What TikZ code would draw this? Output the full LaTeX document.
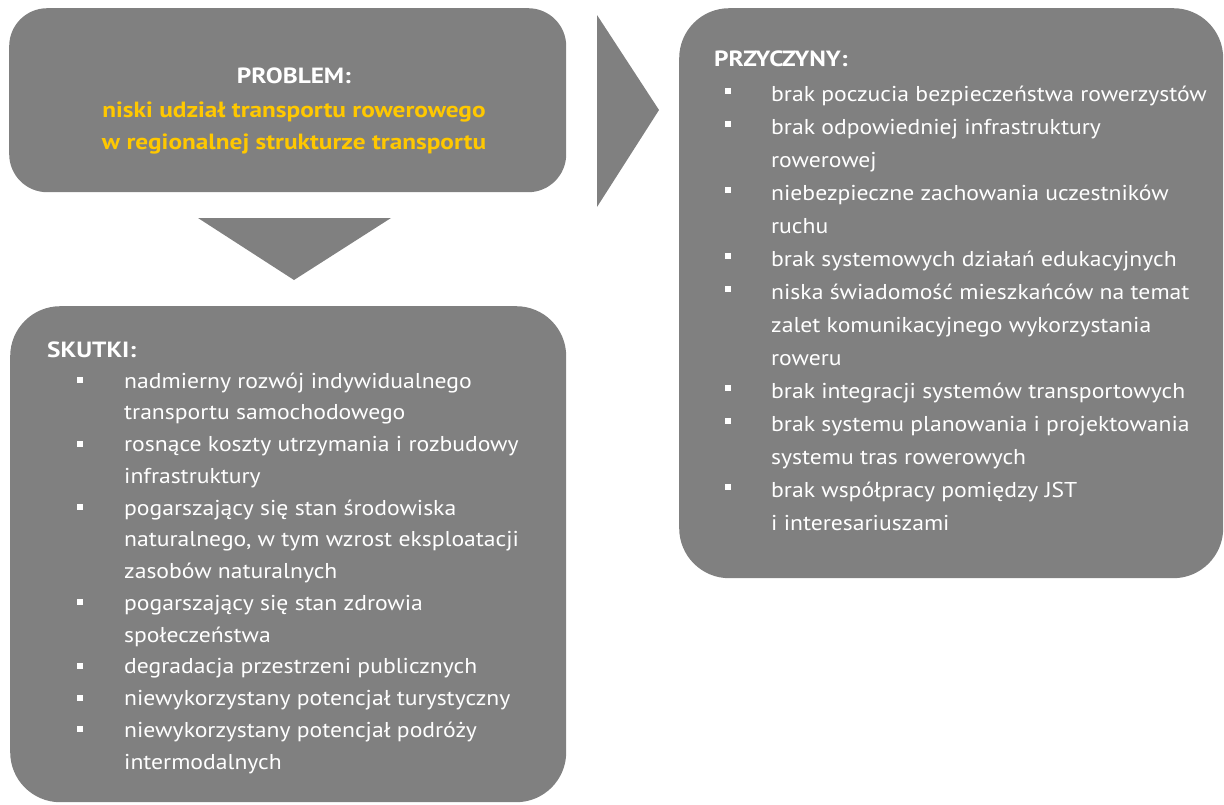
\documentclass[tikz,border=0pt]{standalone}
\usepackage{fontspec}
\setmainfont{PT Sans}[FakeStretch=1.10, BoldFeatures={FakeStretch=1.15}]
\definecolor{szary}{HTML}{808080}
\definecolor{zolty}{HTML}{FFC800}
\tikzset{
  blok/.style={fill=szary, inner sep=0pt, anchor=north west},
  tytul/.style={white, font=\fontsize{22}{26}\selectfont\bfseries, anchor=base west, inner sep=0pt},
  wiersz/.style={white, font=\fontsize{21.5}{26}\selectfont, anchor=base west, inner sep=0pt},
  kwadrat/.style={fill=white},
  strzalka/.style={fill=szary},
}

\begin{document}
\begin{tikzpicture}[x=1pt,y=-1pt]
\useasboundingbox (0,0) rectangle (1224,804);

% boxes
\node[blok, rounded corners=38pt, minimum width=557pt, minimum height=184pt] (problem) at (9,8) {};
\node[blok, rounded corners=50pt, minimum width=544pt, minimum height=570pt] (przyczyny) at (679,8) {};
\node[blok, rounded corners=50pt, minimum width=556pt, minimum height=496pt] (skutki) at (10,306) {};

% arrows
\fill[strzalka] (198,218) -- (391,218) -- (294,280) -- cycle;
\fill[strzalka] (597,15) -- (659,110) -- (597,207) -- cycle;

% problem
\node[tytul, anchor=base] (problem-tytul) at (294,83) {PROBLEM:};
\node[tytul, zolty, anchor=base] (problem-1) at (294,117) {niski udział transportu rowerowego};
\node[tytul, zolty, anchor=base] (problem-2) at (294,149) {w regionalnej strukturze transportu};

% causes
\node[tytul] (przyczyny-tytul) at (714,66) {PRZYCZYNY:};
\foreach [count=\i] \p/\t in {
  1/brak poczucia bezpieczeństwa rowerzystów,
  1/brak odpowiedniej infrastruktury,
  0/rowerowej,
  1/niebezpieczne zachowania uczestników,
  0/ruchu,
  1/brak systemowych działań edukacyjnych,
  1/niska świadomość mieszkańców na temat,
  0/zalet komunikacyjnego wykorzystania,
  0/roweru,
  1/brak integracji systemów transportowych,
  1/brak systemu planowania i projektowania,
  0/systemu tras rowerowych,
  1/brak współpracy pomiędzy JST,
  0/i interesariuszami}{
  \node[wiersz] (przyczyny-\i) at (771,{101+33*(\i-1)}) {\t};
  \ifnum\p=1 \fill[kwadrat] ([xshift=-46pt,yshift=7pt]przyczyny-\i.base west) rectangle +(6,-6); \fi
}

% effects
\node[tytul] (skutki-tytul) at (47,357) {SKUTKI:};
\foreach [count=\i] \p/\t in {
  1/nadmierny rozwój indywidualnego,
  0/transportu samochodowego,
  1/rosnące koszty utrzymania i rozbudowy,
  0/infrastruktury,
  1/pogarszający się stan środowiska,
  0/{naturalnego, w tym wzrost eksploatacji},
  0/zasobów naturalnych,
  1/pogarszający się stan zdrowia,
  0/społeczeństwa,
  1/degradacja przestrzeni publicznych,
  1/niewykorzystany potencjał turystyczny,
  1/niewykorzystany potencjał podróży,
  0/intermodalnych}{
  \node[wiersz] (skutki-\i) at (124,{388+31.75*(\i-1)}) {\t};
  \ifnum\p=1 \fill[kwadrat] ([xshift=-47pt,yshift=5pt]skutki-\i.base west) rectangle +(6,-6); \fi
}
\end{tikzpicture}
\end{document}
